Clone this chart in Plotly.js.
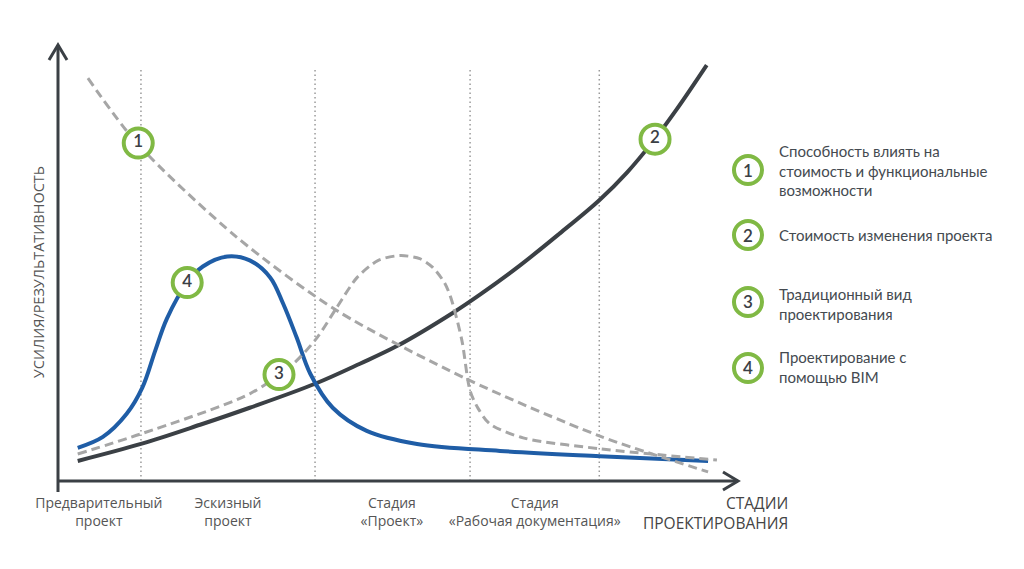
<!DOCTYPE html>
<html><head><meta charset="utf-8">
<script src="https://cdn.plot.ly/plotly-3.0.1.min.js"></script>
<style>html,body{margin:0;padding:0;background:#fff}#chart{width:1024px;height:569px}</style>
</head><body><div id="chart"></div>
<script>
// ---- data ----
const stageTickPos = [6.0, 25.0, 49.1, 70.1];
const stageTickText = ['Предварительный<br>проект', 'Эскизный<br>проект', 'Стадия<br>«Проект»', 'Стадия<br>«Рабочая документация»'];
const axisXTitle = 'СТАДИИ<br>ПРОЕКТИРОВАНИЯ';
const axisYTitle = 'УСИЛИЯ/РЕЗУЛЬТАТИВНОСТЬ';
const stageBounds = [12.2, 37.8, 60.6, 79.6];
const boundTop = 94.9;

// curve 2: cost of design change
const costX = [2.9, 12.2, 20.9, 28.2, 37.8, 44.4, 49.9, 58.1, 62.1, 67.9, 73.8, 79.6, 83.7, 87.5, 91.0, 95.4];
const costY = [4.6, 8.5, 12.9, 16.8, 22.3, 26.9, 31.0, 38.6, 42.8, 49.4, 56.8, 64.4, 70.8, 77.9, 85.3, 95.4];

// curve 4: BIM design effort
const bimX = [2.9, 6.6, 10.1, 12.4, 14.3, 16.0, 19.0, 21.3, 24.9, 28.2, 31.2, 33.1, 35.1, 37.1, 40.4, 45.4, 52.8, 65.0, 79.7, 95.6];
const bimY = [7.6, 10.1, 15.4, 21.4, 29.9, 37.2, 45.5, 49.2, 51.5, 50.6, 46.7, 40.7, 32.9, 24.6, 16.8, 11.5, 8.5, 6.9, 5.7, 4.6];

// curve 1: ability to influence cost
const influenceX = [4.4, 11.6, 26.3, 41.0, 60.1, 79.7, 95.6];
const influenceY = [92.4, 77.5, 55.9, 39.1, 23.4, 10.3, 2.1];

// curve 3: traditional design effort
const tradX = [2.9, 12.2, 28.2, 34.6, 38.1, 41.0, 44.0, 47.1, 50.3, 53.2, 55.1, 56.9, 57.9, 59.4, 60.6, 61.8, 63.5, 68.4, 79.7, 96.9];
const tradY = [6.2, 10.8, 20.0, 26.9, 32.9, 39.8, 46.7, 50.6, 51.7, 51.0, 49.0, 45.3, 41.4, 32.2, 20.7, 16.6, 13.1, 9.9, 7.4, 4.8];

// numbered badges on curves
const badgeX = [11.8, 87.8, 32.5, 19.0];
const badgeY = [77.5, 78.4, 24.4, 45.5];
const badgeLabel = ['1', '2', '3', '4'];

// legend
const legendNums = ['1', '2', '3', '4'];
const legendTexts = [
  'Способность влиять на<br>стоимость и функциональные<br>возможности',
  'Стоимость изменения проекта',
  'Традиционный вид<br>проектирования',
  'Проектирование с<br>помощью BIM'
];

// ---- style ----
const dark = '#3b4045';
const blue = '#1f5da6';
const gray = '#a6a6a6';
const green = '#80b944';
const textColor = '#444a50';
const tickFont = {family: 'Open Sans, sans-serif', size: 14, color: '#555'};

const traces = [
  {x: costX, y: costY, mode: 'lines', line: {color: dark, width: 4, shape: 'spline', smoothing: 1}, hoverinfo: 'skip'},
  {x: bimX, y: bimY, mode: 'lines', line: {color: blue, width: 4, shape: 'spline', smoothing: 1}, hoverinfo: 'skip'},
  {x: influenceX, y: influenceY, mode: 'lines', line: {color: gray, width: 3, dash: '9px,5px', shape: 'spline', smoothing: 0.8}, hoverinfo: 'skip'},
  {x: tradX, y: tradY, mode: 'lines', line: {color: gray, width: 3, dash: '9px,5px', shape: 'spline', smoothing: 0.8}, hoverinfo: 'skip'},
  {x: badgeX, y: badgeY, mode: 'markers+text', text: badgeLabel, textposition: 'middle center',
   textfont: {family: 'Lato, sans-serif', size: 17, color: dark, weight: 600},
   marker: {size: 29, color: '#fff', line: {color: green, width: 4}}, cliponaxis: false, hoverinfo: 'skip'}
];

const shapes = [];
stageBounds.forEach(b => shapes.push({type: 'line', xref: 'x', yref: 'y', x0: b, x1: b, y0: 0, y1: boundTop,
  line: {color: '#9a9a9a', width: 1.5, dash: '1.5px,3px'}, layer: 'below'}));
// axes
shapes.push({type: 'line', xref: 'paper', yref: 'paper', x0: 0, x1: 0, y0: -0.025, y1: 1, line: {color: dark, width: 3}});
shapes.push({type: 'line', xref: 'paper', yref: 'paper', x0: 0, x1: 1, y0: 0, y1: 0, line: {color: dark, width: 3}});
shapes.push({type: 'path', xref: 'paper', yref: 'paper', xsizemode: 'pixel', ysizemode: 'pixel', xanchor: 0, yanchor: 1,
  path: 'M-9,-15L0,0L9,-15', line: {color: dark, width: 3}});
shapes.push({type: 'path', xref: 'paper', yref: 'paper', xsizemode: 'pixel', ysizemode: 'pixel', xanchor: 1, yanchor: 0,
  path: 'M-15,9L0,0L-15,-9', line: {color: dark, width: 3}});

const annotations = [];
const legCircleX = 1.0147, legTextX = 1.0574;
const legCircleY = [0.7133, 0.5642, 0.4106, 0.2592];
const legTextY = [0.7133, 0.5642, 0.4071, 0.2626];
legendNums.forEach((n, i) => {
  shapes.push({type: 'circle', xref: 'paper', yref: 'paper', xsizemode: 'pixel', ysizemode: 'pixel',
    xanchor: legCircleX, yanchor: legCircleY[i], x0: -14, x1: 14, y0: -14, y1: 14,
    line: {color: green, width: 4}, fillcolor: '#fff'});
  annotations.push({xref: 'paper', yref: 'paper', x: legCircleX, y: legCircleY[i], text: n, showarrow: false,
    xanchor: 'center', yanchor: 'middle', font: {family: 'Lato, sans-serif', size: 17, color: dark, weight: 600}});
  annotations.push({xref: 'paper', yref: 'paper', x: legTextX, y: legTextY[i], text: legendTexts[i], showarrow: false,
    xanchor: 'left', yanchor: 'middle', align: 'left', font: {family: 'Lato, sans-serif', size: 15, color: textColor}});
});
annotations.push({xref: 'paper', yref: 'paper', x: 1.0765, y: -0.073, text: axisXTitle, showarrow: false,
  xanchor: 'right', yanchor: 'middle', align: 'right', font: {family: 'Open Sans, sans-serif', size: 15.5, color: '#444'}});
annotations.push({xref: 'paper', yref: 'paper', x: -0.0294, y: 0.479, text: axisYTitle, showarrow: false, textangle: -90,
  xanchor: 'center', yanchor: 'middle', font: {family: 'Open Sans, sans-serif', size: 14.5, color: '#555'}});

const layout = {
  width: 1024, height: 569,
  margin: {l: 58, r: 286, t: 45, b: 88},
  paper_bgcolor: '#fff', plot_bgcolor: '#fff',
  showlegend: false,
  xaxis: {range: [0, 100], showgrid: false, zeroline: false, showline: false, ticks: '',
          tickmode: 'array', tickvals: stageTickPos, ticktext: stageTickText, tickfont: tickFont, ticklabelstandoff: 12},
  yaxis: {range: [0, 100], showgrid: false, zeroline: false, showline: false, showticklabels: false, ticks: ''},
  shapes: shapes,
  annotations: annotations
};

Plotly.newPlot('chart', traces, layout, {displayModeBar: false, staticPlot: true});
</script>
</body></html>
